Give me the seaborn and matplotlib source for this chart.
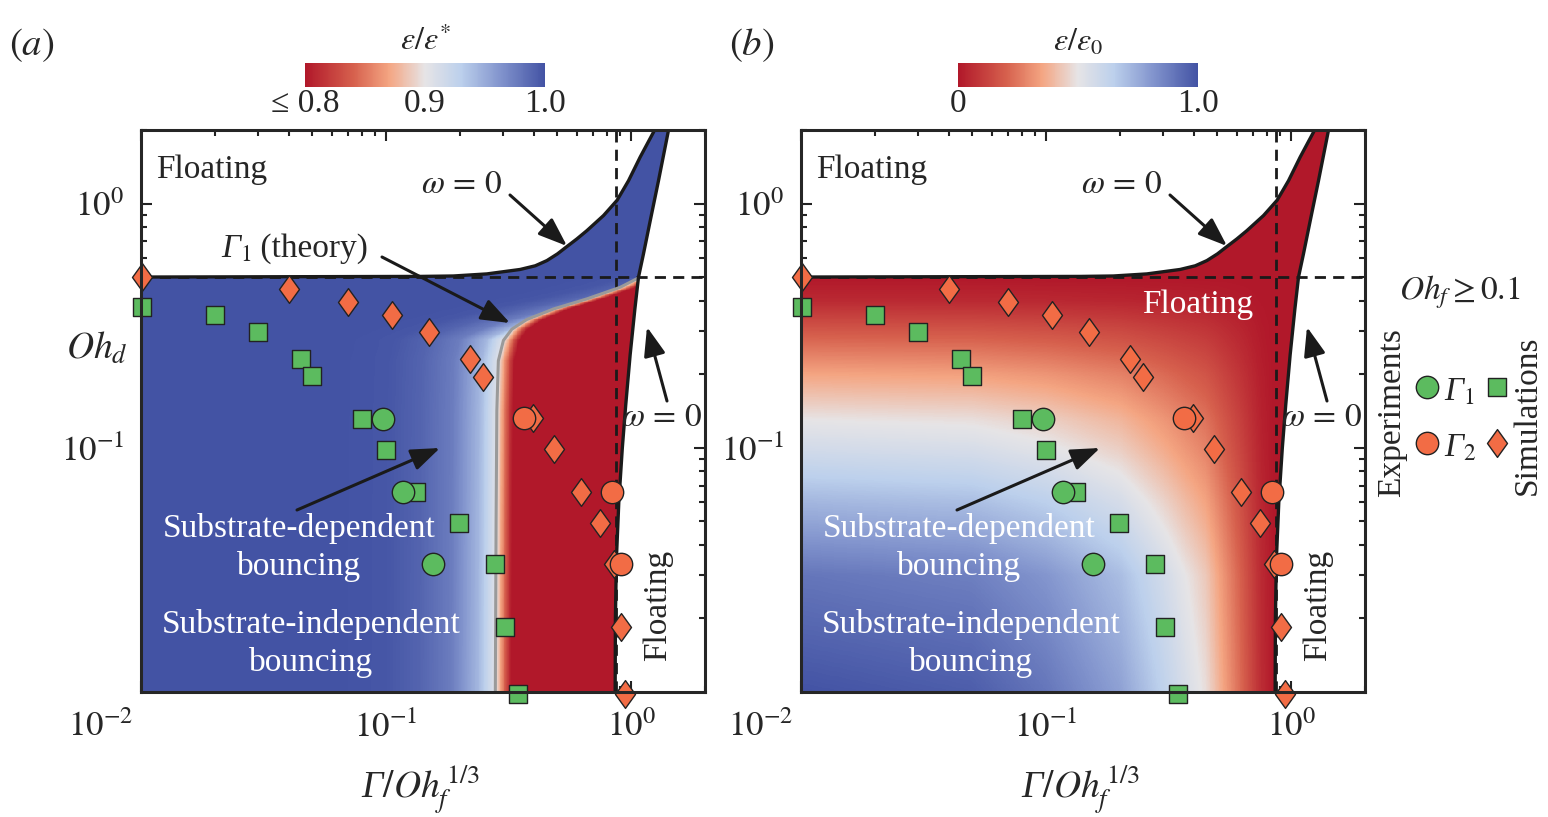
import numpy as np
import matplotlib
matplotlib.use('Agg')
import matplotlib.pyplot as plt
import matplotlib.transforms as mtransforms
from matplotlib.colors import LinearSegmentedColormap, Normalize
from matplotlib.cm import ScalarMappable
from matplotlib.path import Path
import seaborn as sns

# ---- data ----
# Gamma_1 simulations (squares) / experiments (circles)
g1_sim_x = [0.0101, 0.020, 0.030, 0.045, 0.050, 0.080, 0.0998, 0.132, 0.199, 0.279, 0.306, 0.345]
g1_sim_y = [0.376, 0.348, 0.297, 0.231, 0.197, 0.131, 0.098, 0.066, 0.049, 0.0334, 0.0185, 0.0098]
g1_exp_x = [0.0975, 0.117, 0.156]
g1_exp_y = [0.131, 0.066, 0.0334]
# Gamma_2 simulations (diamonds) / experiments (circles)
g2_sim_x = [0.0101, 0.040, 0.0698, 0.106, 0.149, 0.220, 0.248, 0.399, 0.486, 0.624, 0.747, 0.853, 0.91, 0.946]
g2_sim_y = [0.499, 0.447, 0.397, 0.348, 0.297, 0.231, 0.194, 0.132, 0.0988, 0.066, 0.0494, 0.0334, 0.0184, 0.0098]
g2_exp_x = [0.366, 0.834, 0.91]
g2_exp_y = [0.132, 0.066, 0.0334]

# omega = 0 boundaries
upper_x = [0.01, 0.1377, 0.188, 0.2575, 0.352, 0.406, 0.453, 0.50, 0.547, 0.60, 0.660, 0.771,
           0.875, 0.975, 1.088, 1.233, 1.245]
upper_y = [0.5, 0.503, 0.505, 0.515, 0.537, 0.556, 0.584, 0.622, 0.667, 0.716, 0.775, 0.893,
           1.03, 1.24, 1.55, 1.96, 2.0]
right_x = [0.86, 0.862, 0.87, 0.89, 0.92, 0.95, 0.99, 1.035, 1.071, 1.122, 1.196, 1.292, 1.42]
right_y = [0.01, 0.02, 0.035, 0.06, 0.1, 0.15, 0.24, 0.37, 0.5, 0.622, 0.852, 1.24, 2.0]
# Gamma_1 theory (grey line)
gray_x = [0.279, 0.281, 0.283, 0.287, 0.301, 0.326, 0.375, 0.482, 0.66, 0.902, 1.071]
gray_y = [0.01, 0.05, 0.142, 0.227, 0.275, 0.306, 0.335, 0.370, 0.407, 0.454, 0.496]
vline_x = 0.87
hline_y = 0.5

# panel (a) colour: eps/eps* against log-offset from the grey line
prof_d = [-0.7, -0.45, -0.31, -0.18, -0.07, -0.02, 0.0, 0.013, 0.03, 0.05, 0.065]
prof_v = [1.0, 0.998, 0.99, 0.976, 0.944, 0.916, 0.905, 0.884, 0.856, 0.82, 0.80]
# panel (b) colour: eps/eps0 profiles along bottom and left edges
bx = [0.01, 0.05, 0.1, 0.2, 0.3, 0.45, 0.6, 0.75, 0.85]
bx_v = [1.0, 0.97, 0.9, 0.78, 0.64, 0.48, 0.25, 0.06, 0.0]
by = [0.01, 0.03, 0.06, 0.1, 0.13, 0.2, 0.3, 0.4, 0.5]
by_v = [1.0, 0.9, 0.72, 0.57, 0.5, 0.35, 0.18, 0.05, 0.0]

GREEN = '#5cbb5f'
ORANGE = '#f26c45'
EDGE = '#222222'

sns.set_theme(style='ticks')
plt.rcParams['font.family'] = ['Liberation Serif', 'DejaVu Serif']
plt.rcParams['mathtext.fontset'] = 'stix'
plt.rcParams['axes.linewidth'] = 2.0

cmap = LinearSegmentedColormap.from_list('rb', [
    (0.0, '#b1182a'), (0.2, '#d6604d'), (0.35, '#f4a582'), (0.5, '#e6e4e6'),
    (0.65, '#bcd0ec'), (0.82, '#8092cc'), (1.0, '#4353a4')])

diamond = Path([(0, 1), (0.72, 0), (0, -1), (-0.72, 0), (0, 1)],
               [Path.MOVETO, Path.LINETO, Path.LINETO, Path.LINETO, Path.CLOSEPOLY])

fig = plt.figure(figsize=(15.48, 8.17), dpi=100)
axa = fig.add_axes([141 / 1548, 125 / 817, 564 / 1548, 562 / 817])
axb = fig.add_axes([801 / 1548, 125 / 817, 564 / 1548, 562 / 817])

xs = np.logspace(-2, np.log10(2), 700)
ys = np.logspace(-2, np.log10(2), 700)
X, Y = np.meshgrid(xs, ys)
lx, ly = np.log10(X), np.log10(Y)
inside = (ly <= np.interp(lx, np.log10(upper_x), np.log10(upper_y))) & \
         (lx <= np.interp(ly, np.log10(right_y), np.log10(right_x)))

# panel a field
d = lx - np.interp(ly, np.log10(gray_y), np.log10(gray_x))
neg = d < 0
d[neg] = d[neg] - 1.5 * np.clip(ly[neg] - np.log10(0.28), 0, None)
d[Y > gray_y[-1]] = -1.0
Za = np.ma.masked_where(~inside, np.interp(d, prof_d, prof_v))
norm_a = Normalize(0.8, 1.0)
axa.pcolormesh(xs, ys, Za, cmap=cmap, norm=norm_a, shading='nearest', rasterized=True, zorder=1)

# panel b field
Zb = np.interp(lx, np.log10(bx), bx_v) * np.interp(ly, np.log10(by), by_v)
Zb = np.ma.masked_where(~inside, Zb)
norm_b = Normalize(0.0, 1.0)
axb.pcolormesh(xs, ys, Zb, cmap=cmap, norm=norm_b, shading='nearest', rasterized=True, zorder=1)

arrow_kw = dict(arrowstyle='-|>,head_length=0.8,head_width=0.3', color='k', lw=2.2,
                mutation_scale=22, shrinkA=0, shrinkB=0)


def frac(px, py):
    return ((px - 141) / 564, (692 - py) / 562)


for ax, label in [(axa, 'a'), (axb, 'b')]:
    ax.set_xscale('log')
    ax.set_yscale('log')
    ax.set_xlim(0.01, 2)
    ax.set_ylim(0.01, 2)
    ax.axvline(vline_x, color='k', lw=2, ls=(0, (4, 2.6)), zorder=2)
    ax.axhline(hline_y, color='k', lw=2, ls=(0, (4, 2.6)), zorder=2)
    if label == 'a':
        ax.plot(gray_x, gray_y, color='#9a9a9a', lw=2.2, zorder=3)
    ax.plot(upper_x, upper_y, color='k', lw=2.4, zorder=3)
    ax.plot(right_x, right_y, color='k', lw=2.4, zorder=3)

    sns.scatterplot(x=g1_sim_x, y=g1_sim_y, ax=ax, marker='s', s=170, color=GREEN,
                    edgecolor=EDGE, linewidth=1.0, clip_on=False, zorder=4, legend=False)
    sns.scatterplot(x=g2_sim_x, y=g2_sim_y, ax=ax, marker=diamond, s=400, color=ORANGE,
                    edgecolor=EDGE, linewidth=1.0, clip_on=False, zorder=4, legend=False)
    sns.scatterplot(x=g1_exp_x, y=g1_exp_y, ax=ax, marker='o', s=260, color=GREEN,
                    edgecolor=EDGE, linewidth=1.0, clip_on=False, zorder=5, legend=False)
    sns.scatterplot(x=g2_exp_x, y=g2_exp_y, ax=ax, marker='o', s=260, color=ORANGE,
                    edgecolor=EDGE, linewidth=1.0, clip_on=False, zorder=5, legend=False)

    ax.set_xticks([0.01, 0.1, 1], labels=[r'$10^{-2}$', r'$10^{-1}$', r'$10^{0}$'])
    ax.set_yticks([0.1, 1], labels=[r'$10^{-1}$', r'$10^{0}$'])
    ax.tick_params(which='both', direction='in', top=True, right=True, width=1.5,
                   labelsize=25, color=EDGE)
    ax.tick_params(axis='x', pad=14)
    ax.tick_params(axis='y', pad=12)
    ax.tick_params(which='major', length=8)
    ax.tick_params(which='minor', length=4.5)
    for sp in ax.spines.values():
        sp.set_linewidth(2.2)
        sp.set_zorder(6)
    first = ax.get_xticklabels()[0]
    first.set_transform(first.get_transform() + mtransforms.ScaledTranslation(-0.40, 0, fig.dpi_scale_trans))

    ax.set_xlabel('Γ' + r'$/Oh_f^{\,1/3}$', fontsize=27, fontstyle='italic', va='center')
    ax.xaxis.set_label_coords(0.495, -0.175)
    if label == 'a':
        ax.set_ylabel(r'$Oh_d$', fontsize=27, rotation=0, va='center', ha='center')
        ax.yaxis.set_label_coords(-0.078, 0.61)
    else:
        ax.set_ylabel('')

    txt = dict(transform=ax.transAxes, fontsize=24, ha='center', va='center', zorder=7)
    ax.text(*frac(212, 170), 'Floating', **txt)
    ax.text(*frac(462, 185), r'$\omega\,=\,0$', **txt)
    ax.annotate('', xy=frac(567, 246), xytext=frac(510, 195), xycoords='axes fraction',
                arrowprops=arrow_kw, zorder=7)
    ax.text(*frac(662, 418), r'$\omega\,=\,0$', **txt)
    ax.annotate('', xy=frac(647, 327), xytext=frac(667, 401), xycoords='axes fraction',
                arrowprops=arrow_kw, zorder=7)
    ax.text(*frac(658, 605), 'Floating', rotation=90, **txt)
    ax.text(*frac(299, 528), 'Substrate-dependent', color='white', **txt)
    ax.text(*frac(299, 567), 'bouncing', color='white', **txt)
    ax.annotate('', xy=frac(440, 448), xytext=frac(297, 510), xycoords='axes fraction',
                arrowprops=arrow_kw, zorder=7)
    ax.text(*frac(311, 624), 'Substrate-independent', color='white', **txt)
    ax.text(*frac(311, 663), 'bouncing', color='white', **txt)
    if label == 'a':
        bx0, by0 = frac(252, 257)
        ax.text(bx0, by0, 'Γ$_1$', transform=ax.transAxes, fontsize=24, fontstyle='italic',
                ha='right', va='baseline', zorder=7)
        ax.text(bx0, by0, ' (theory)', transform=ax.transAxes, fontsize=24,
                ha='left', va='baseline', zorder=7)
        ax.annotate('', xy=frac(510, 323), xytext=frac(382, 257), xycoords='axes fraction',
                    arrowprops=arrow_kw, zorder=7)
    else:
        ax.text(*frac(538, 305), 'Floating', color='white', **txt)

# colour bars
for left, norm, ticks, tlabels, title in [
        (305, norm_a, [0.8, 0.9, 1.0], ['≤ 0.8', '0.9', '1.0'], r'$\varepsilon/\varepsilon^{*}$'),
        (958, norm_b, [0.0, 1.0], ['0', '1.0'], r'$\varepsilon/\varepsilon_0$')]:
    cax = fig.add_axes([left / 1548, (817 - 87) / 817, 240 / 1548, 24 / 817])
    cb = fig.colorbar(ScalarMappable(norm=norm, cmap=cmap), cax=cax, orientation='horizontal')
    cb.outline.set_visible(False)
    cb.set_ticks(ticks, labels=tlabels)
    cax.tick_params(length=0, labelsize=24, pad=1)
    cax.set_title(title, fontsize=23, pad=9)

# panel letters and legend block (figure pixel coordinates)
lax = fig.add_axes([0, 0, 1, 1])
lax.set_xlim(0, 1548)
lax.set_ylim(817, 0)
lax.axis('off')
lax.text(32, 45, r'$(a)$', fontsize=28, ha='center', va='center')
lax.text(752, 45, r'$(b)$', fontsize=28, ha='center', va='center')
lax.text(1460, 292, r'$Oh_f \geq 0.1$', fontsize=24, ha='center', va='center')
lax.text(1392, 413, 'Experiments', fontsize=24, rotation=90, ha='center', va='center')
lax.text(1527, 415, 'Simulations', fontsize=24, rotation=90, ha='center', va='center')
lax.text(1460, 392, 'Γ$_1$', fontsize=24, fontstyle='italic', ha='center', va='center')
lax.text(1460, 448, 'Γ$_2$', fontsize=24, fontstyle='italic', ha='center', va='center')
lax.scatter([1427], [387], marker='o', s=260, color=GREEN, edgecolor=EDGE, linewidth=1.0)
lax.scatter([1427], [443], marker='o', s=260, color=ORANGE, edgecolor=EDGE, linewidth=1.0)
lax.scatter([1497], [387], marker='s', s=170, color=GREEN, edgecolor=EDGE, linewidth=1.0)
lax.scatter([1497], [443], marker=diamond, s=400, color=ORANGE, edgecolor=EDGE, linewidth=1.0)

fig.savefig('out.png', dpi=100)
